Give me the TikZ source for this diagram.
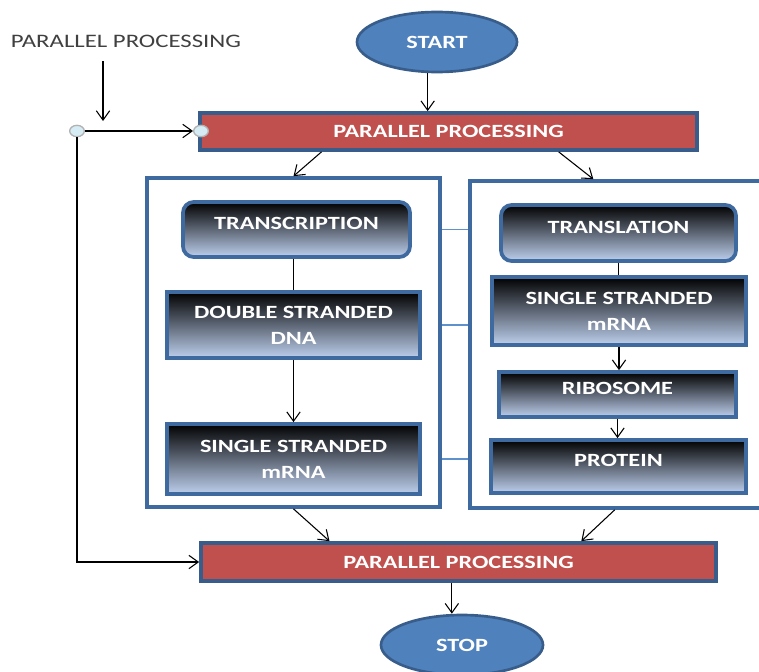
\documentclass[tikz,border=0pt]{standalone}
\usepackage{fontspec}
\setmainfont{Carlito}[FakeStretch=1.3]
\usetikzlibrary{arrows.meta,shapes.geometric}
\definecolor{ppred}{RGB}{192,80,77}
\definecolor{ovblue}{RGB}{79,129,189}
\definecolor{ovedge}{RGB}{56,93,138}
\definecolor{panedge}{RGB}{62,106,160}
\definecolor{boxlight}{RGB}{190,208,238}
\definecolor{jnfill}{RGB}{214,236,244}
\definecolor{hdrgray}{RGB}{64,64,64}
\definecolor{linkblue}{RGB}{95,145,205}
\begin{document}
\begin{tikzpicture}[x=0.75pt,y=-0.75pt,
    font=\fontsize{14}{19.5}\selectfont\bfseries,
    size/.style 2 args={minimum width={0.75pt*#1},minimum height={0.75pt*#2}},
    arr/.style={-{Straight Barb[length=7pt,width=10pt]},line width=0.8pt},
    term/.style={ellipse,draw=ovedge,line width=2pt,fill=ovblue,text=white,
      minimum width=120pt,minimum height=45pt,inner sep=0pt},
    ppbox/.style={draw=ovedge,line width=2.8pt,fill=ppred,text=white,inner sep=0pt},
    panel/.style={draw=panedge,line width=2.8pt,fill=white,inner sep=0pt},
    stepbox/.style={draw=panedge,line width=2.8pt,top color=black,bottom color=boxlight,
      text=white,inner sep=0pt,align=center},
    roundbox/.style={stepbox,rounded corners=8pt},
    raised/.style={text depth=9pt},
    jn/.style={ellipse,draw=gray!60,fill=jnfill,line width=1pt,
      minimum width=11pt,minimum height=8.5pt,inner sep=0pt},
    link/.style={draw=linkblue,line width=1pt}]
  \useasboundingbox (0,0) rectangle (759,671);
  \clip (0,0) rectangle (759,671);

  % start and the first parallel step
  \node[term] (start) at (437,42) {START};
  \node[ppbox,size={497}{37}] (pp1) at (448.5,131.5) {PARALLEL PROCESSING};
  \node[font=\fontsize{14.3}{17}\selectfont,text=hdrgray] (hdr) at (126,41) {PARALLEL PROCESSING};
  \coordinate (hdrtip) at (103,121);
  \node[jn] (j1) at (77,131) {};
  \node[jn] (j2) at (201,131) {};

  % the two panels
  \node[panel,size={293}{329}] (lpanel) at (293.5,342.5) {};
  \node[panel,size={300}{327}] (rpanel) at (620,344.5) {};

  \node[roundbox,raised,size={227}{55}] (trsc) at (296.5,229.5) {TRANSCRIPTION};
  \node[stepbox,size={253}{66}] (dsdna) at (293.5,325) {DOUBLE STRANDED\\DNA};
  \node[stepbox,size={253}{70}] (ssl) at (293.5,459) {SINGLE STRANDED\\mRNA};

  \node[roundbox,raised,size={235}{56}] (trsl) at (618.5,233) {TRANSLATION};
  \node[stepbox,size={254}{68}] (ssr) at (619,311) {SINGLE STRANDED\\mRNA};
  \node[stepbox,raised,size={237}{45}] (ribo) at (617.5,394.5) {RIBOSOME};
  \node[stepbox,raised,size={255}{53}] (prot) at (618.5,466.5) {PROTEIN};

  % second parallel step and stop
  \node[ppbox,size={515}{38}] (pp2) at (458.5,562) {PARALLEL PROCESSING};
  \node[term,minimum width=121.5pt] (stop) at (462,645) {STOP};

  \begin{scope}[link]
    \draw (lpanel.east |- trsc) -- (rpanel.west |- trsc);
    \draw (lpanel.east |- dsdna) -- (rpanel.west |- dsdna);
    \draw (lpanel.east |- ssl) -- (rpanel.west |- ssl);
  \end{scope}

  \draw[arr] ([xshift=-7pt]start.south) -- ([xshift=-7pt]start.south |- pp1.north);
  \draw[arr] ([yshift=-7pt]hdr.south -| hdrtip) -- (hdrtip);
  \draw[arr] (j1.east) -- (j2.west);
  \draw[arr] (j1.south) |- (pp2.west);
  \draw[arr] ([xshift=21pt]pp1.south -| lpanel.north) -- (lpanel.north);
  \draw[arr] ([xshift=-46pt]pp1.south -| rpanel.north) -- ([xshift=-20pt]rpanel.north);
  \draw[arr] (lpanel.south) -- ([xshift=27pt]lpanel.south |- pp2.north);
  \draw[arr] ([xshift=-4pt]rpanel.south) -- ([xshift=-29pt]rpanel.south |- pp2.north);
  \draw[arr] ([xshift=-5pt]pp2.south) -- ([xshift=-5pt]pp2.south |- stop.north);

  \draw[line width=0.8pt] (dsdna.north |- trsc.south) -- (dsdna.north);
  \draw[arr] (dsdna.south) -- (ssl.north);
  \draw[line width=0.8pt] (trsl.south) -- (trsl.south |- ssr.north);
  \draw[arr] (ssr.south) -- (ssr.south |- ribo.north);
  \draw[arr] (ribo.south) -- (ribo.south |- prot.north);
\end{tikzpicture}
\end{document}
